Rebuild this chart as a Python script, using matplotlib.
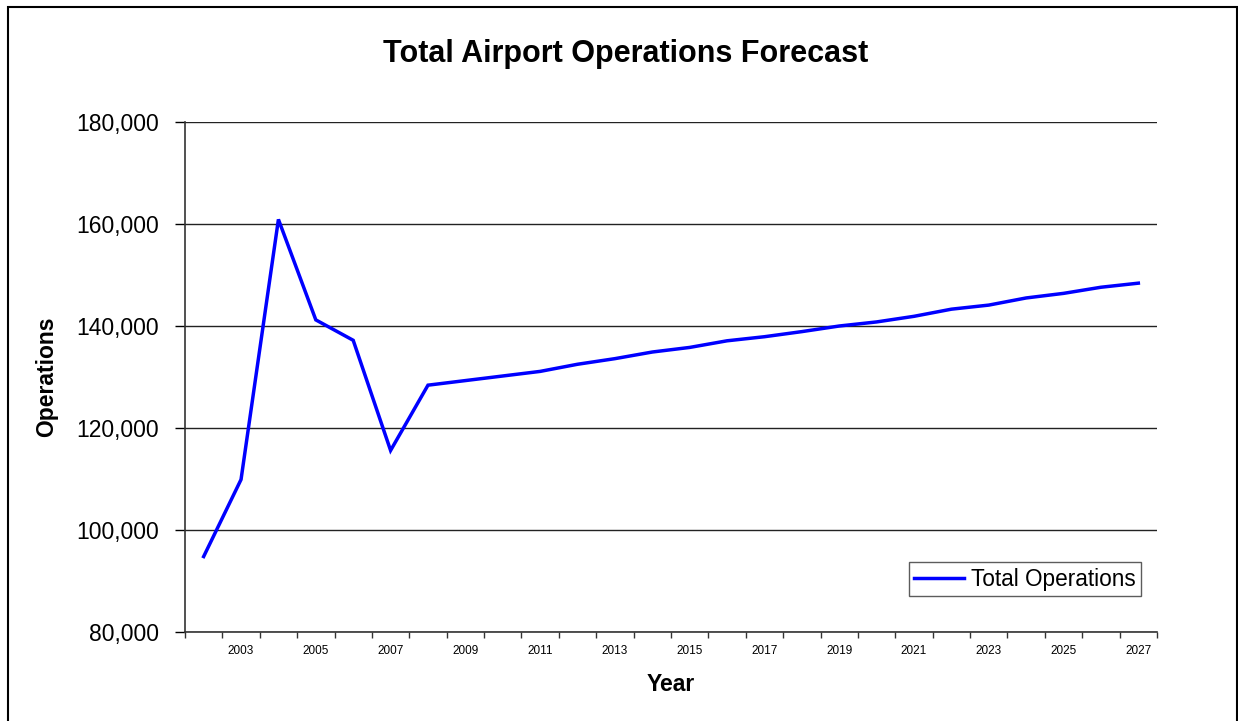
import matplotlib.pyplot as plt
import matplotlib.ticker as mticker
from matplotlib.patches import Rectangle
import numpy as np

plt.rcParams['font.family'] = ['Liberation Sans', 'DejaVu Sans']

# annual totals, actual + forecast
years = list(range(2002, 2028))
operations = [94800, 109900, 160900, 141200, 137200, 115600, 128400,
              129300, 130200, 131100, 132500, 133600, 134900, 135800,
              137100, 137900, 138900, 140000, 140800, 141900, 143300,
              144100, 145500, 146400, 147600, 148400]
label_years = [y for y in years if y % 2 == 1]

fig = plt.figure(figsize=(12.38, 7.21), dpi=100)
ax = fig.add_axes([0.1494, 0.1234, 0.9346 - 0.1494, 0.8308 - 0.1234])

x = np.arange(len(years))
ax.plot(x, operations, color='#0000ff', lw=2.5, label='Total Operations',
        solid_joinstyle='miter')

ax.set_ylim(80000, 180000)
ax.set_yticks(range(80000, 180001, 20000))
ax.yaxis.set_major_formatter(mticker.FuncFormatter(lambda v, p: f'{int(v):,}'))
ax.yaxis.grid(True, color='#222222', lw=1)
ax.set_axisbelow(True)

# tick marks sit between categories, labels on every other year
ax.set_xlim(-0.5, len(years) - 0.5)
ax.set_xticks(np.arange(-0.5, len(years)))
ax.set_xticklabels([])
ax.set_xticks([years.index(y) for y in label_years], minor=True)
ax.set_xticklabels([str(y) for y in label_years], minor=True, fontsize=8.5)
ax.tick_params(axis='x', which='major', length=4, width=1, color='#333333')
ax.tick_params(axis='x', which='minor', length=0, pad=9)
ax.tick_params(axis='y', length=7, width=1, labelsize=16.5, pad=12)

for side in ('top', 'right'):
    ax.spines[side].set_visible(False)
for side in ('left', 'bottom'):
    ax.spines[side].set_color('#333333')
    ax.spines[side].set_linewidth(1.2)

ax.set_xlabel('Year', fontsize=16.5, fontweight='bold', labelpad=12)
ax.set_ylabel('Operations', fontsize=16.5, fontweight='bold', labelpad=13)
fig.suptitle('Total Airport Operations Forecast', fontsize=22, fontweight='bold',
             x=0.505, y=0.946)

leg = ax.legend(loc='lower right', bbox_to_anchor=(0.984, 0.07), fontsize=16.3,
                frameon=True, fancybox=False, borderpad=0.25, handlelength=2.2,
                handletextpad=0.3, borderaxespad=0)
leg.get_frame().set_edgecolor('#333333')
leg.get_frame().set_linewidth(1)

# outer chart border (bottom edge falls off the canvas)
fig.patches.append(Rectangle((8 / 1238, -0.01), (1237 - 8) / 1238, 1.01 - 7 / 721,
                             transform=fig.transFigure, fill=False,
                             edgecolor='black', lw=1.5))

fig.savefig('out.png', dpi=100)
